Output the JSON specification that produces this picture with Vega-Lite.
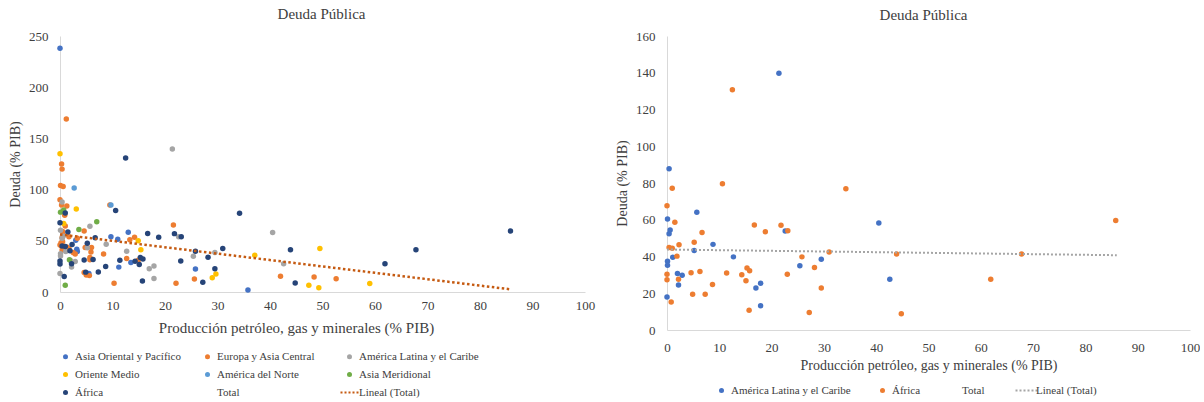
{
  "$schema": "https://vega.github.io/schema/vega-lite/v6.json",
  "background": "white",
  "padding": {"left": 8, "top": 7, "right": 0, "bottom": 0},
  "bounds": "flush",
  "spacing": 82,
  "config": {
    "font": "Liberation Serif",
    "view": {"stroke": null},
    "axis": {"labelFont": "Liberation Serif", "titleFont": "Liberation Serif", "labelFontSize": 13, "titleFontSize": 14, "titleFontWeight": "normal", "labelColor": "#404040", "titleColor": "#404040", "domainColor": "#D9D9D9", "domainWidth": 1, "ticks": false, "grid": false, "labelFlush": false, "labelOverlap": false},
    "legend": {"labelFont": "Liberation Serif"},
    "title": {"font": "Liberation Serif", "fontSize": 15, "fontWeight": "normal", "color": "#404040"}
  },
  "datasets": {
    "paises": [
      {"region": "Asia Oriental y Pacífico", "prod": 0, "deuda": 238},
      {"region": "Asia Oriental y Pacífico", "prod": 3.0, "deuda": 50.6},
      {"region": "Asia Oriental y Pacífico", "prod": 3.2, "deuda": 41.8},
      {"region": "Asia Oriental y Pacífico", "prod": 3.3, "deuda": 39.6},
      {"region": "Asia Oriental y Pacífico", "prod": 5.5, "deuda": 18},
      {"region": "Asia Oriental y Pacífico", "prod": 9.7, "deuda": 54},
      {"region": "Asia Oriental y Pacífico", "prod": 11, "deuda": 51.5},
      {"region": "Asia Oriental y Pacífico", "prod": 11.2, "deuda": 24.3},
      {"region": "Asia Oriental y Pacífico", "prod": 13, "deuda": 58.4},
      {"region": "Asia Oriental y Pacífico", "prod": 13.5, "deuda": 28.9},
      {"region": "Asia Oriental y Pacífico", "prod": 25.8, "deuda": 22.4},
      {"region": "Asia Oriental y Pacífico", "prod": 35.8, "deuda": 2},
      {"region": "Europa y Asia Central", "prod": 1.2, "deuda": 169},
      {"region": "Europa y Asia Central", "prod": 0.3, "deuda": 125},
      {"region": "Europa y Asia Central", "prod": 0.4, "deuda": 120},
      {"region": "Europa y Asia Central", "prod": 0.1, "deuda": 104},
      {"region": "Europa y Asia Central", "prod": 0.6, "deuda": 103},
      {"region": "Europa y Asia Central", "prod": 0, "deuda": 90},
      {"region": "Europa y Asia Central", "prod": 0.3, "deuda": 85},
      {"region": "Europa y Asia Central", "prod": 1.3, "deuda": 84},
      {"region": "Europa y Asia Central", "prod": 0.9, "deuda": 75},
      {"region": "Europa y Asia Central", "prod": 9.5, "deuda": 85},
      {"region": "Europa y Asia Central", "prod": 1, "deuda": 64.5},
      {"region": "Europa y Asia Central", "prod": 0.5, "deuda": 59},
      {"region": "Europa y Asia Central", "prod": 4.6, "deuda": 59.5},
      {"region": "Europa y Asia Central", "prod": 1.7, "deuda": 54},
      {"region": "Europa y Asia Central", "prod": 0.5, "deuda": 49},
      {"region": "Europa y Asia Central", "prod": 0.6, "deuda": 55.5},
      {"region": "Europa y Asia Central", "prod": 0.4, "deuda": 53},
      {"region": "Europa y Asia Central", "prod": 0.2, "deuda": 48},
      {"region": "Europa y Asia Central", "prod": 0.3, "deuda": 45},
      {"region": "Europa y Asia Central", "prod": 0, "deuda": 46},
      {"region": "Europa y Asia Central", "prod": 1.3, "deuda": 44},
      {"region": "Europa y Asia Central", "prod": 1.7, "deuda": 42.6},
      {"region": "Europa y Asia Central", "prod": 0.4, "deuda": 41},
      {"region": "Europa y Asia Central", "prod": 3.3, "deuda": 52.5},
      {"region": "Europa y Asia Central", "prod": 4.8, "deuda": 43.5},
      {"region": "Europa y Asia Central", "prod": 6, "deuda": 43.5},
      {"region": "Europa y Asia Central", "prod": 5.9, "deuda": 39},
      {"region": "Europa y Asia Central", "prod": 5.7, "deuda": 33.8},
      {"region": "Europa y Asia Central", "prod": 2.5, "deuda": 38.6},
      {"region": "Europa y Asia Central", "prod": 2.9, "deuda": 37},
      {"region": "Europa y Asia Central", "prod": 8.3, "deuda": 37},
      {"region": "Europa y Asia Central", "prod": 5.7, "deuda": 31.4},
      {"region": "Europa y Asia Central", "prod": 4.6, "deuda": 19},
      {"region": "Europa y Asia Central", "prod": 5, "deuda": 16.5},
      {"region": "Europa y Asia Central", "prod": 5.6, "deuda": 16},
      {"region": "Europa y Asia Central", "prod": 10.3, "deuda": 8.5},
      {"region": "Europa y Asia Central", "prod": 12.7, "deuda": 32.8},
      {"region": "Europa y Asia Central", "prod": 13.3, "deuda": 51},
      {"region": "Europa y Asia Central", "prod": 14.2, "deuda": 53.5},
      {"region": "Europa y Asia Central", "prod": 14.9, "deuda": 31},
      {"region": "Europa y Asia Central", "prod": 21.6, "deuda": 65.5},
      {"region": "Europa y Asia Central", "prod": 22.1, "deuda": 8.5},
      {"region": "Europa y Asia Central", "prod": 25.6, "deuda": 12.6},
      {"region": "Europa y Asia Central", "prod": 42, "deuda": 15.4},
      {"region": "Europa y Asia Central", "prod": 48.4, "deuda": 14.6},
      {"region": "Europa y Asia Central", "prod": 52.6, "deuda": 13},
      {"region": "América Latina y el Caribe", "prod": 0.4, "deuda": 87.8},
      {"region": "América Latina y el Caribe", "prod": 0.1, "deuda": 60.4},
      {"region": "América Latina y el Caribe", "prod": 0.6, "deuda": 54.4},
      {"region": "América Latina y el Caribe", "prod": 0.4, "deuda": 52.4},
      {"region": "América Latina y el Caribe", "prod": 5.7, "deuda": 64.1},
      {"region": "América Latina y el Caribe", "prod": 5.2, "deuda": 43.3},
      {"region": "América Latina y el Caribe", "prod": 8.8, "deuda": 46.6},
      {"region": "América Latina y el Caribe", "prod": 1.1, "deuda": 39.6},
      {"region": "América Latina y el Caribe", "prod": 0.1, "deuda": 37.4},
      {"region": "América Latina y el Caribe", "prod": 0.1, "deuda": 35.2},
      {"region": "América Latina y el Caribe", "prod": 2, "deuda": 30.7},
      {"region": "América Latina y el Caribe", "prod": 2.9, "deuda": 29.8},
      {"region": "América Latina y el Caribe", "prod": 2.2, "deuda": 24.5},
      {"region": "América Latina y el Caribe", "prod": 0, "deuda": 18},
      {"region": "América Latina y el Caribe", "prod": 12.7, "deuda": 39.8},
      {"region": "América Latina y el Caribe", "prod": 17, "deuda": 22.8},
      {"region": "América Latina y el Caribe", "prod": 17.9, "deuda": 25.4},
      {"region": "América Latina y el Caribe", "prod": 17.9, "deuda": 13.2},
      {"region": "América Latina y el Caribe", "prod": 25.4, "deuda": 35},
      {"region": "América Latina y el Caribe", "prod": 29.5, "deuda": 38.5},
      {"region": "América Latina y el Caribe", "prod": 22.6, "deuda": 53.9},
      {"region": "América Latina y el Caribe", "prod": 40.5, "deuda": 58.2},
      {"region": "América Latina y el Caribe", "prod": 42.6, "deuda": 27.6},
      {"region": "América Latina y el Caribe", "prod": 21.4, "deuda": 139.7},
      {"region": "Oriente Medio", "prod": 0, "deuda": 135},
      {"region": "Oriente Medio", "prod": 3.1, "deuda": 81},
      {"region": "Oriente Medio", "prod": 0.7, "deuda": 67},
      {"region": "Oriente Medio", "prod": 14.9, "deuda": 50},
      {"region": "Oriente Medio", "prod": 15.4, "deuda": 41.3},
      {"region": "Oriente Medio", "prod": 29, "deuda": 14},
      {"region": "Oriente Medio", "prod": 29.7, "deuda": 17.5},
      {"region": "Oriente Medio", "prod": 37.1, "deuda": 36},
      {"region": "Oriente Medio", "prod": 49.5, "deuda": 42.5},
      {"region": "Oriente Medio", "prod": 47.4, "deuda": 6.5},
      {"region": "Oriente Medio", "prod": 49.3, "deuda": 4.2},
      {"region": "Oriente Medio", "prod": 59, "deuda": 8.4},
      {"region": "América del Norte", "prod": 2.7, "deuda": 101.5},
      {"region": "América del Norte", "prod": 9.7, "deuda": 85},
      {"region": "Asia Meridional", "prod": 0.1, "deuda": 78},
      {"region": "Asia Meridional", "prod": 0.7, "deuda": 80},
      {"region": "Asia Meridional", "prod": 7, "deuda": 68.5},
      {"region": "Asia Meridional", "prod": 3.6, "deuda": 61},
      {"region": "Asia Meridional", "prod": 1.8, "deuda": 31.5},
      {"region": "Asia Meridional", "prod": 1, "deuda": 6.5},
      {"region": "África", "prod": 12.5, "deuda": 130.8},
      {"region": "África", "prod": 10.6, "deuda": 79.6},
      {"region": "África", "prod": 34.2, "deuda": 76.9},
      {"region": "África", "prod": 1, "deuda": 77.1},
      {"region": "África", "prod": 0, "deuda": 67.6},
      {"region": "África", "prod": 1.5, "deuda": 58.6},
      {"region": "África", "prod": 16.7, "deuda": 57.2},
      {"region": "África", "prod": 21.8, "deuda": 57},
      {"region": "África", "prod": 23.1, "deuda": 54},
      {"region": "África", "prod": 18.8, "deuda": 53.5},
      {"region": "África", "prod": 6.7, "deuda": 53},
      {"region": "África", "prod": 5.2, "deuda": 47.7},
      {"region": "África", "prod": 2.3, "deuda": 46.4},
      {"region": "África", "prod": 0.4, "deuda": 44.9},
      {"region": "África", "prod": 1, "deuda": 44.5},
      {"region": "África", "prod": 1.9, "deuda": 40.2},
      {"region": "África", "prod": 25.8, "deuda": 39.8},
      {"region": "África", "prod": 31, "deuda": 42.4},
      {"region": "África", "prod": 43.9, "deuda": 41.3},
      {"region": "África", "prod": 0, "deuda": 30.3},
      {"region": "África", "prod": 0, "deuda": 27.4},
      {"region": "África", "prod": 2.2, "deuda": 27.6},
      {"region": "África", "prod": 4.6, "deuda": 31.2},
      {"region": "África", "prod": 6.3, "deuda": 31.8},
      {"region": "África", "prod": 11.4, "deuda": 31},
      {"region": "África", "prod": 14.3, "deuda": 30.1},
      {"region": "África", "prod": 15.3, "deuda": 33.8},
      {"region": "África", "prod": 15.8, "deuda": 32.2},
      {"region": "África", "prod": 15.1, "deuda": 26.8},
      {"region": "África", "prod": 23, "deuda": 30.3},
      {"region": "África", "prod": 28.2, "deuda": 34},
      {"region": "África", "prod": 29.5, "deuda": 22.8},
      {"region": "África", "prod": 8.7, "deuda": 24.8},
      {"region": "África", "prod": 4.9, "deuda": 19.4},
      {"region": "África", "prod": 7.3, "deuda": 19.5},
      {"region": "África", "prod": 0.8, "deuda": 15.2},
      {"region": "África", "prod": 15.7, "deuda": 10.8},
      {"region": "África", "prod": 27.2, "deuda": 9.5},
      {"region": "África", "prod": 44.8, "deuda": 8.8},
      {"region": "África", "prod": 61.9, "deuda": 27.6},
      {"region": "África", "prod": 67.8, "deuda": 41.3},
      {"region": "África", "prod": 85.8, "deuda": 59.6}
    ],
    "tendenciaIzq": [
      {"prod": 0, "deuda": 56.2},
      {"prod": 86, "deuda": 2.5}
    ],
    "tendenciaDer": [
      {"prod": 0, "deuda": 43.8},
      {"prod": 86, "deuda": 40.7}
    ]
  },
  "hconcat": [
    {
      "width": 525,
      "height": 256,
      "title": {"text": "Deuda Pública", "offset": 8, "dx": -1},
      "encoding": {
        "x": {"field": "prod", "type": "quantitative", "scale": {"domain": [0, 100], "nice": false},
              "axis": {"values": [0, 10, 20, 30, 40, 50, 60, 70, 80, 90, 100], "labelPadding": 7, "titlePadding": 8, "titleX": 236, "labelOverlap": false, "labelFlush": false, "labelFont": "Liberation Serif", "titleFont": "Liberation Serif", "titleFontSize": 15},
              "title": "Producción petróleo, gas y minerales (% PIB)"},
        "y": {"field": "deuda", "type": "quantitative", "scale": {"domain": [0, 250], "nice": false},
              "axis": {"values": [0, 50, 100, 150, 200, 250], "labelPadding": 12, "titlePadding": 6, "labelOverlap": false, "labelFont": "Liberation Serif", "titleFont": "Liberation Serif"},
              "title": "Deuda (% PIB)"}
      },
      "layer": [
        {
          "data": {"name": "paises"},
          "mark": {"type": "point", "filled": true, "size": 30, "opacity": 1},
          "encoding": {
            "color": {
              "field": "region", "type": "nominal",
              "scale": {
                "domain": ["Asia Oriental y Pacífico", "Europa y Asia Central", "América Latina y el Caribe", "Oriente Medio", "América del Norte", "Asia Meridional", "África", "Total", "Lineal (Total)"],
                "range": ["#4472C4", "#ED7D31", "#A5A5A5", "#FFC000", "#5B9BD5", "#70AD47", "#264478", "transparent", "#C55A11"]
              },
              "legend": {
                "orient": "none", "legendX": 0, "legendY": 315, "direction": "horizontal", "columns": 3,
                "title": null, "symbolSize": 25, "labelFontSize": 11, "labelFont": "Liberation Serif", "labelColor": "#404040",
                "gridAlign": "all", "columnPadding": -1, "rowPadding": 6, "labelOffset": 4, "labelLimit": 300,
                "encode": {
                  "symbols": {
                    "update": {
                      "shape": {"signal": "datum.value === 'Lineal (Total)' ? 'stroke' : 'circle'"},
                      "size": {"signal": "datum.value === 'Lineal (Total)' ? 324 : 25"},
                      "fill": {"signal": "['#4472C4','#ED7D31','#A5A5A5','#FFC000','#5B9BD5','#70AD47','#264478','transparent','transparent'][indexof(['Asia Oriental y Pacífico','Europa y Asia Central','América Latina y el Caribe','Oriente Medio','América del Norte','Asia Meridional','África','Total','Lineal (Total)'], datum.value)]"},
                      "stroke": {"signal": "datum.value === 'Lineal (Total)' ? '#C55A11' : 'transparent'"},
                      "strokeDash": {"signal": "datum.value === 'Lineal (Total)' ? [2, 2] : [1, 0]"},
                      "strokeWidth": {"signal": "datum.value === 'Lineal (Total)' ? 2 : 0"},
                      "opacity": {"value": 1}
                    }
                  }
                }
              }
            }
          }
        },
        {
          "data": {"name": "tendenciaIzq"},
          "mark": {"type": "line", "strokeDash": [2.5, 2.5], "strokeWidth": 2.5},
          "encoding": {
            "color": {"datum": "Lineal (Total)", "type": "nominal",
              "legend": {
                "orient": "none", "legendX": 0, "legendY": 315, "direction": "horizontal", "columns": 3,
                "title": null, "symbolSize": 25, "labelFontSize": 11, "labelFont": "Liberation Serif", "labelColor": "#404040",
                "gridAlign": "all", "columnPadding": -1, "rowPadding": 6, "labelOffset": 4, "labelLimit": 300,
                "encode": {
                  "symbols": {
                    "update": {
                      "shape": {"signal": "datum.value === 'Lineal (Total)' ? 'stroke' : 'circle'"},
                      "size": {"signal": "datum.value === 'Lineal (Total)' ? 324 : 25"},
                      "fill": {"signal": "['#4472C4','#ED7D31','#A5A5A5','#FFC000','#5B9BD5','#70AD47','#264478','transparent','transparent'][indexof(['Asia Oriental y Pacífico','Europa y Asia Central','América Latina y el Caribe','Oriente Medio','América del Norte','Asia Meridional','África','Total','Lineal (Total)'], datum.value)]"},
                      "stroke": {"signal": "datum.value === 'Lineal (Total)' ? '#C55A11' : 'transparent'"},
                      "strokeDash": {"signal": "datum.value === 'Lineal (Total)' ? [2, 2] : [1, 0]"},
                      "strokeWidth": {"signal": "datum.value === 'Lineal (Total)' ? 2 : 0"},
                      "opacity": {"value": 1}
                    }
                  }
                }
              }
            }
          }
        }
      ]
    },
    {
      "width": 523,
      "height": 294,
      "title": {"text": "Deuda Pública", "offset": 7, "dx": -5},
      "encoding": {
        "x": {"field": "prod", "type": "quantitative", "scale": {"domain": [0, 100], "nice": false},
              "axis": {"values": [0, 10, 20, 30, 40, 50, 60, 70, 80, 90, 100], "labelPadding": 11, "titlePadding": 4, "labelOverlap": false, "labelFlush": false, "labelFont": "Liberation Serif", "titleFont": "Liberation Serif"},
              "title": "Producción petróleo, gas y minerales (% PIB)"},
        "y": {"field": "deuda", "type": "quantitative", "scale": {"domain": [0, 160], "nice": false},
              "axis": {"values": [0, 20, 40, 60, 80, 100, 120, 140, 160], "labelPadding": 12, "titlePadding": 6, "labelOverlap": false, "labelFont": "Liberation Serif", "titleFont": "Liberation Serif"},
              "title": "Deuda (% PIB)"}
      },
      "layer": [
        {
          "data": {"name": "paises"},
          "transform": [{"filter": "datum.region === 'América Latina y el Caribe' || datum.region === 'África'"}],
          "mark": {"type": "point", "filled": true, "size": 30, "opacity": 1},
          "encoding": {
            "color": {
              "field": "region", "type": "nominal",
              "scale": {
                "domain": ["América Latina y el Caribe", "África", "Total", "Lineal (Total)"],
                "range": ["#4472C4", "#ED7D31", "transparent", "#A5A5A5"]
              },
              "legend": {
                "orient": "none", "legendX": 49, "legendY": 349, "direction": "horizontal", "columns": 4,
                "title": null, "symbolSize": 25, "labelFontSize": 11, "labelFont": "Liberation Serif", "labelColor": "#404040",
                "gridAlign": "none", "columnPadding": 26, "labelOffset": 4, "labelLimit": 300,
                "encode": {
                  "symbols": {
                    "update": {
                      "shape": {"signal": "datum.value === 'Lineal (Total)' ? 'stroke' : 'circle'"},
                      "size": {"signal": "datum.value === 'Lineal (Total)' ? 484 : 25"},
                      "fill": {"signal": "['#4472C4','#ED7D31','transparent','transparent'][indexof(['América Latina y el Caribe','África','Total','Lineal (Total)'], datum.value)]"},
                      "stroke": {"signal": "datum.value === 'Lineal (Total)' ? '#A5A5A5' : 'transparent'"},
                      "strokeDash": {"signal": "datum.value === 'Lineal (Total)' ? [2, 2] : [1, 0]"},
                      "strokeWidth": {"signal": "datum.value === 'Lineal (Total)' ? 2 : 0"},
                      "opacity": {"value": 1}
                    }
                  }
                }
              }
            }
          }
        },
        {
          "data": {"name": "tendenciaDer"},
          "mark": {"type": "line", "strokeDash": [2, 2], "strokeWidth": 2},
          "encoding": {
            "color": {"datum": "Lineal (Total)", "type": "nominal",
              "legend": {
                "orient": "none", "legendX": 49, "legendY": 349, "direction": "horizontal", "columns": 4,
                "title": null, "symbolSize": 25, "labelFontSize": 11, "labelFont": "Liberation Serif", "labelColor": "#404040",
                "gridAlign": "none", "columnPadding": 26, "labelOffset": 4, "labelLimit": 300,
                "encode": {
                  "symbols": {
                    "update": {
                      "shape": {"signal": "datum.value === 'Lineal (Total)' ? 'stroke' : 'circle'"},
                      "size": {"signal": "datum.value === 'Lineal (Total)' ? 484 : 25"},
                      "fill": {"signal": "['#4472C4','#ED7D31','transparent','transparent'][indexof(['América Latina y el Caribe','África','Total','Lineal (Total)'], datum.value)]"},
                      "stroke": {"signal": "datum.value === 'Lineal (Total)' ? '#A5A5A5' : 'transparent'"},
                      "strokeDash": {"signal": "datum.value === 'Lineal (Total)' ? [2, 2] : [1, 0]"},
                      "strokeWidth": {"signal": "datum.value === 'Lineal (Total)' ? 2 : 0"},
                      "opacity": {"value": 1}
                    }
                  }
                }
              }
            }
          }
        }
      ]
    }
  ],
  "resolve": {"scale": {"color": "independent"}, "legend": {"color": "independent"}}
}
